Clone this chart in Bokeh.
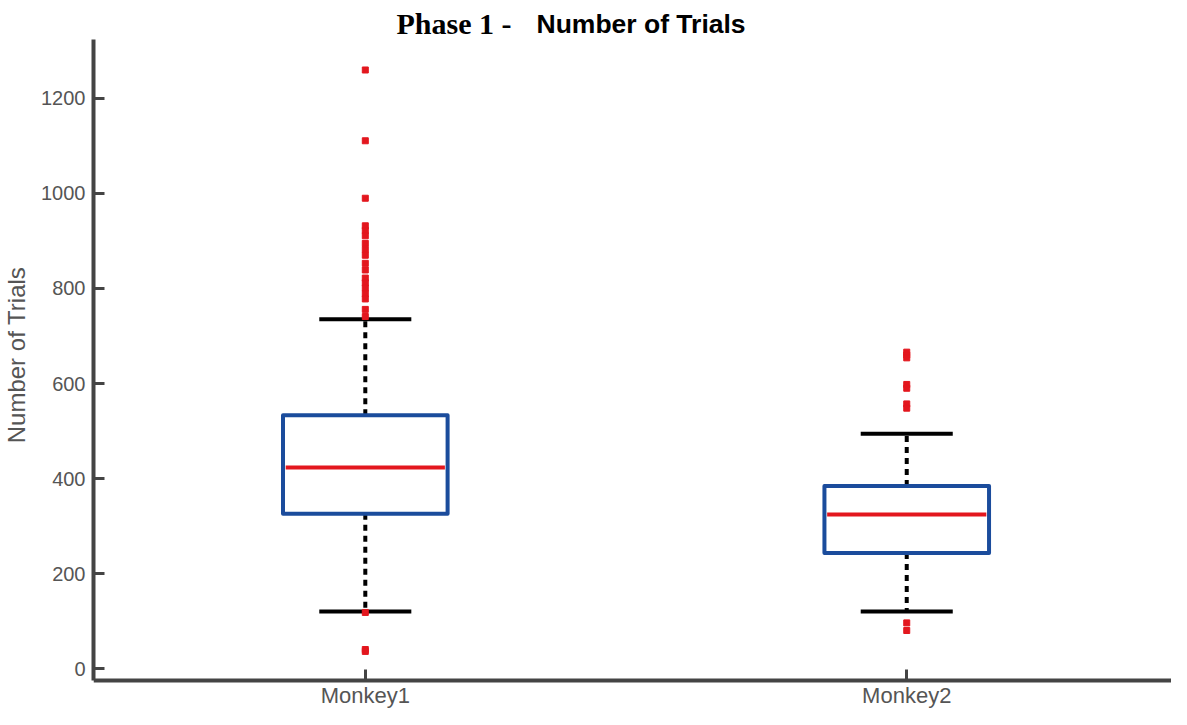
from bokeh.plotting import figure
from bokeh.models import Range1d, FixedTicker, Label
from bokeh.embed import file_html
from bokeh.resources import INLINE

categories = ["Monkey1", "Monkey2"]
q1 = [326, 243]
median = [423, 324]
q3 = [533, 384]
lower_whisker = [120, 120]
upper_whisker = [735, 494]
outliers = {
    "Monkey1": [1260, 1111, 990, 932, 922, 911, 895, 882, 870, 853, 839, 822,
                812, 801, 789, 778, 756, 741, 118, 40, 36],
    "Monkey2": [666, 660, 654, 598, 590, 557, 548, 96, 80],
}
y_ticks = [0, 200, 400, 600, 800, 1000, 1200]
y_axis_extent = (-25, 1324)
x_start, x_end = 0.498, 2.489

BLUE = "#1b4c9c"
RED = "#e3171e"
AXIS = "#444444"
LABEL = "#555555"

xs = [i + 1 for i in range(len(categories))]

p = figure(width=1171, height=709, output_backend="svg", toolbar_location=None,
           x_range=Range1d(x_start, x_end), y_range=Range1d(-86.3, 1406.3),
           min_border_left=84, min_border_right=0, min_border_top=0, min_border_bottom=0)
p.outline_line_color = None
p.xgrid.visible = False
p.ygrid.visible = False
p.background_fill_color = "white"

half_box = 0.152
half_cap = 0.085

# whiskers
p.segment(x0=xs, y0=q3, x1=xs, y1=upper_whisker, line_color="black", line_width=4, line_dash="6 5")
p.segment(x0=xs, y0=q1, x1=xs, y1=lower_whisker, line_color="black", line_width=4, line_dash="6 5")
# caps
p.segment(x0=[x - half_cap for x in xs], y0=upper_whisker, x1=[x + half_cap for x in xs], y1=upper_whisker,
          line_color="black", line_width=4)
p.segment(x0=[x - half_cap for x in xs], y0=lower_whisker, x1=[x + half_cap for x in xs], y1=lower_whisker,
          line_color="black", line_width=4)
# boxes
p.quad(left=[x - half_box for x in xs], right=[x + half_box for x in xs], bottom=q1, top=q3,
       fill_color="white", line_color=BLUE, line_width=4, line_join="round")
# medians
p.segment(x0=[x - half_box + 0.005 for x in xs], y0=median, x1=[x + half_box - 0.005 for x in xs], y1=median,
          line_color=RED, line_width=4)
# outliers
ox, oy = [], []
for x, c in zip(xs, categories):
    ox += [x] * len(outliers[c])
    oy += outliers[c]
p.scatter(ox, oy, marker="square", size=6, color=RED)

# axes
for ax in (p.xaxis[0], p.yaxis[0]):
    ax.axis_line_color = AXIS
    ax.axis_line_width = 4
    ax.major_tick_line_color = AXIS
    ax.major_tick_line_width = 3
    ax.major_tick_in = 11
    ax.major_tick_out = 0
    ax.minor_tick_line_color = None
    ax.major_label_text_color = LABEL
    ax.major_label_text_font = "Liberation Sans"

p.xaxis.ticker = FixedTicker(ticks=xs)
p.xaxis.major_label_overrides = {x: c for x, c in zip(xs, categories)}
p.xaxis.major_label_text_font_size = "22px"
p.xaxis.major_label_standoff = 3
p.xaxis.fixed_location = y_axis_extent[0]
p.xaxis.bounds = (x_start, x_end)

p.yaxis.ticker = FixedTicker(ticks=y_ticks)
p.yaxis.bounds = y_axis_extent
p.yaxis.major_label_text_font_size = "20px"
p.yaxis.major_label_standoff = 8
p.yaxis.axis_label = "Number of Trials"
p.yaxis.axis_label_text_font = "Liberation Sans"
p.yaxis.axis_label_text_font_style = "normal"
p.yaxis.axis_label_text_font_size = "24px"
p.yaxis.axis_label_text_color = LABEL
p.yaxis.axis_label_standoff = 8

# title (two fonts)
p.add_layout(Label(x=303, y=686, x_units="screen", y_units="screen", text="Phase 1 -",
                   text_font="Liberation Serif", text_font_style="bold", text_font_size="30px",
                   text_color="black", text_baseline="alphabetic", text_align="left"))
p.add_layout(Label(x=443, y=686, x_units="screen", y_units="screen", text="Number of Trials",
                   text_font="Liberation Sans", text_font_style="bold", text_font_size="26.5px",
                   text_color="black", text_baseline="alphabetic", text_align="left"))

open("out.html", "w").write(file_html(p, INLINE))
